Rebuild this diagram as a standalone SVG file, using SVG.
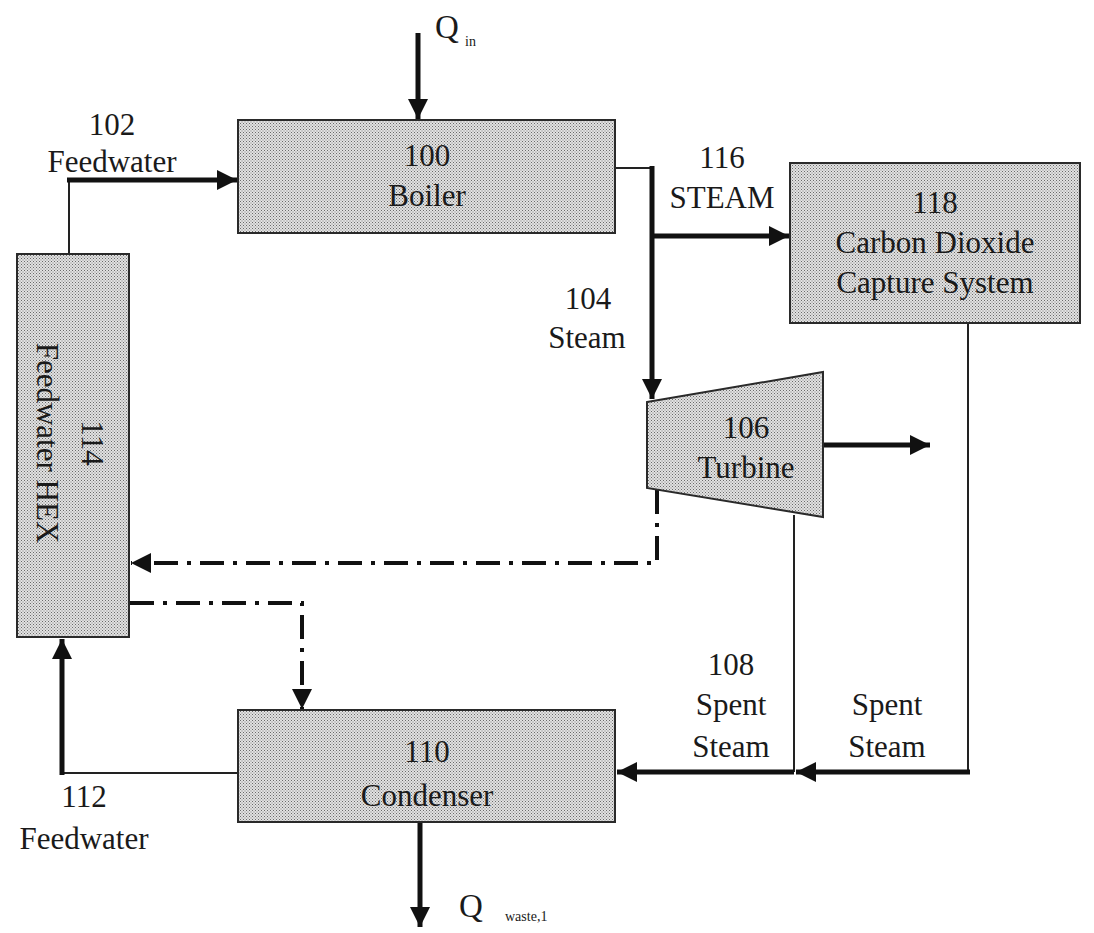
<svg xmlns="http://www.w3.org/2000/svg" width="1094" height="933" viewBox="0 0 1094 933">
<defs>
<pattern id="stip" width="3" height="3" patternUnits="userSpaceOnUse">
<rect width="3" height="3" fill="#e2e2e2"/>
<rect x="0" y="0" width="1" height="1" fill="#6a6a6a"/>
<rect x="1.5" y="1.5" width="1" height="1" fill="#7a7a7a"/>
</pattern>
<marker id="ah" viewBox="0 0 10 10" refX="10" refY="5" markerWidth="22" markerHeight="20" markerUnits="userSpaceOnUse" orient="auto">
<path d="M0,0 L10,5 L0,10 Z" fill="#111"/>
</marker>
</defs>
<style>
.box{fill:url(#stip);stroke:#2a2a2a;stroke-width:2}
text{font-family:'Liberation Serif','Times New Roman','DejaVu Serif',serif;fill:#1a1a1a}
.t{font-size:31px;text-anchor:middle}
.sub{font-size:14px}
.thick{fill:none;stroke:#111;stroke-width:5}
.thin{fill:none;stroke:#222;stroke-width:2}
.dd{fill:none;stroke:#111;stroke-width:4;stroke-dasharray:24 9 4 9}
</style>

<g id="connectors">
<line class="thick" x1="418" y1="33" x2="418" y2="119" marker-end="url(#ah)"/>
<path class="thin" d="M69,254 V180"/>
<path class="thick" d="M67,180 H237" marker-end="url(#ah)"/>
<path class="thin" d="M615,168 H652"/>
<path class="thick" d="M652,166 V399" marker-end="url(#ah)"/>
<path class="thick" d="M652,236 H789" marker-end="url(#ah)"/>
<path class="thick" d="M823,445 H930" marker-end="url(#ah)"/>
<path class="dd" d="M657,490 V563 H131" marker-end="url(#ah)"/>
<path class="dd" d="M130,603 H302 V709" marker-end="url(#ah)"/>
<path class="thin" d="M794,515 V772"/>
<path class="thin" d="M968,323 V772"/>
<path class="thick" d="M970,772 H796" marker-end="url(#ah)"/>
<path class="thick" d="M794,772 H617" marker-end="url(#ah)"/>
<path class="thin" d="M238,773 H62"/>
<path class="thick" d="M62,775 V639" marker-end="url(#ah)"/>
<path class="thick" d="M420,822 V927" marker-end="url(#ah)"/>
</g>

<g id="boiler">
<rect class="box" x="238" y="120" width="377" height="113"/>
<text class="t" x="427" y="166" font-family="Liberation Serif, serif">100</text>
<text class="t" x="427" y="206" font-family="Liberation Serif, serif">Boiler</text>
</g>

<g id="co2capture">
<rect class="box" x="790" y="163" width="290" height="160"/>
<text class="t" x="935" y="213">118</text>
<text class="t" x="935" y="253">Carbon Dioxide</text>
<text class="t" x="935" y="293">Capture System</text>
</g>

<g id="turbine">
<polygon class="box" points="647,402 823,372 823,517 647,488"/>
<text class="t" x="746" y="438">106</text>
<text class="t" x="746" y="478">Turbine</text>
</g>

<g id="hex">
<rect class="box" x="17" y="254" width="112" height="383"/>
<g transform="translate(73,443) rotate(90)">
<text class="t" x="0" y="-9">114</text>
<text class="t" x="0" y="36">Feedwater HEX</text>
</g>
</g>

<g id="condenser">
<rect class="box" x="238" y="710" width="377" height="112"/>
<text class="t" x="427" y="762">110</text>
<text class="t" x="427" y="806">Condenser</text>
</g>

<g id="labels">
<text class="t" x="447" y="38" style="font-size:33px">Q</text>
<text class="sub" x="465" y="46">in</text>
<text class="t" x="112" y="135">102</text>
<text class="t" x="112" y="172">Feedwater</text>
<text class="t" x="722" y="168">116</text>
<text class="t" x="722" y="208">STEAM</text>
<text class="t" x="588" y="309">104</text>
<text class="t" x="587" y="348">Steam</text>
<text class="t" x="731" y="675">108</text>
<text class="t" x="731" y="715">Spent</text>
<text class="t" x="731" y="757">Steam</text>
<text class="t" x="887" y="715">Spent</text>
<text class="t" x="887" y="757">Steam</text>
<text class="t" x="84" y="807">112</text>
<text class="t" x="84" y="849">Feedwater</text>
<text class="t" x="471" y="917" style="font-size:33px">Q</text>
<text class="sub" x="505" y="921">waste,1</text>
</g>
</svg>
